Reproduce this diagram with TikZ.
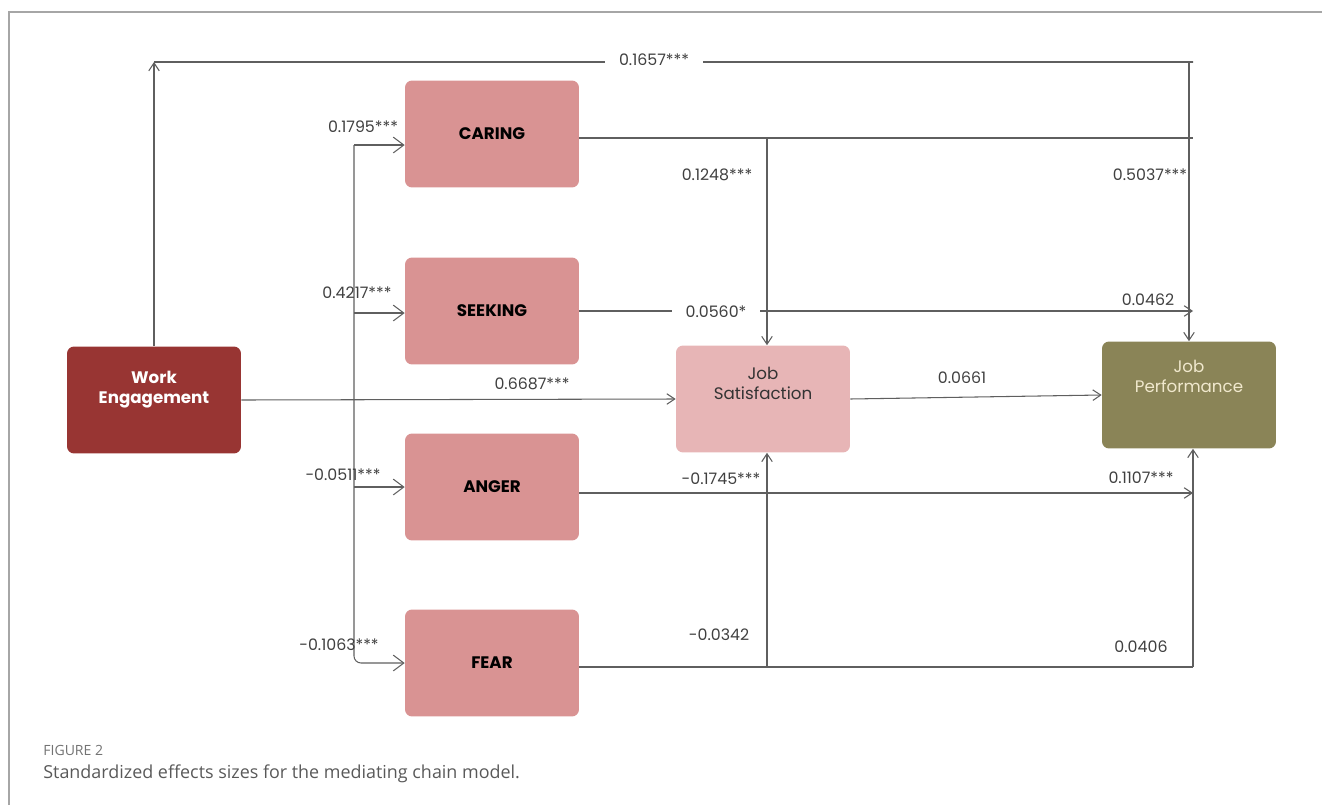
\documentclass[tikz,border=0pt]{standalone}
\usepackage{fontspec}
\setmainfont{Poppins}
\newfontfamily\capfont{Open Sans}
\usetikzlibrary{positioning,arrows.meta}
\definecolor{WorkRed}{RGB}{152,53,51}
\definecolor{EmoPink}{RGB}{217,147,147}
\definecolor{SatPink}{RGB}{231,181,182}
\definecolor{PerfOlive}{RGB}{138,132,87}
\definecolor{PerfText}{RGB}{240,232,205}
\definecolor{LineGray}{RGB}{95,95,95}

\begin{document}
\begin{tikzpicture}[
    x=0.02cm, y=-0.02cm,
    box/.style={rectangle,rounded corners=4pt,minimum width=3.48cm,minimum height=2.14cm,align=center,inner sep=2pt},
    predictor/.style={box,fill=WorkRed,text=white,font=\fontsize{9.5}{11.5}\selectfont\bfseries},
    emotion/.style={box,fill=EmoPink,text=black,font=\fontsize{9.5}{11.5}\selectfont\bfseries},
    mediator/.style={box,fill=SatPink,text=black!80,font=\fontsize{9.5}{11.5}\selectfont},
    outcome/.style={box,fill=PerfOlive,text=PerfText,font=\fontsize{9.5}{11.5}\selectfont},
    effect/.style={->,>={Straight Barb[length=4.5pt,width=6pt]},line width=0.6pt,LineGray},
    feed/.style={->,>={Straight Barb[length=6pt,width=9pt]},line width=0.6pt,LineGray},
    link/.style={line width=0.6pt,LineGray},
    coef/.style={font=\fontsize{9}{10}\selectfont,text=black!75,inner sep=1pt}
]
\useasboundingbox (0,0) rectangle (1322,805);

% Frame
\draw[gray!70,line width=0.6pt] (9,805) -- (9,12) -- (1322,12);

% Nodes
\node[predictor] (we) at (154,400) {Work\\Engagement\\[3pt]};
\node[emotion] (caring) at (492,134) {CARING};
\node[emotion] (seeking) at (492,311) {SEEKING};
\node[emotion] (anger) at (492,487) {ANGER};
\node[emotion] (fear) at (492,663) {FEAR};
\node[mediator] (js) at (763,399) {Job\\Satisfaction\\[6pt]};
\node[outcome] (jp) at (1189,395) {Job\\Performance\\[10pt]};

% Junctions
\coordinate (tl) at (154,62);
\coordinate (tr) at (1193,62);
\coordinate (ct) at (354,145);
\coordinate (cb) at (354,663);
\coordinate (cj) at (767,138);
\coordinate (cr) at (1193,138);
\coordinate (fj) at (767,667);
\coordinate (fr) at (1193,667);

% Direct path to job performance
\draw[effect] (we.north) -- (tl);
\draw[effect] (tl) -- (tr) -- (tr -| jp.north) -- (jp.north);
\node[coef,fill=white,inner xsep=8pt] (c0) at (654,60) {0.1657***};

% Work engagement to emotions
\draw[feed] (ct) -- (ct -| caring.west);
\draw[feed,rounded corners=4pt] (ct) -- (cb) -- (cb -| fear.west);
\draw[feed] (354,313) -- (354,313 -| seeking.west);
\draw[feed] (354,487) -- (anger.west);

% Work engagement to job satisfaction
\draw[effect] (we.east) -- (js.west);

% Emotions onward
\draw[link] (caring.east |- cj) -- (cr);
\draw[effect] (cj) -- (cj |- js.north);
\draw[effect] (seeking.east) -- (seeking.east -| tr);
\node[coef,fill=white,inner xsep=8pt] (c9) at (716,312) {0.0560*};
\draw[effect] (anger.east |- 0,493) -- (1193,493);
\draw[link] (fear.east |- fj) -- (fr);
\draw[effect] (fr) -- (fr |- jp.south);
\draw[effect] (fj) -- (fj |- js.south);

% Job satisfaction to job performance
\draw[effect] (js.east) -- (jp.west);

% Coefficients
\node[coef] (c1) at (363,127) {0.1795***};
\node[coef] (c2) at (357,293) {0.4217***};
\node[coef] (c3) at (343,475) {-0.0511***};
\node[coef] (c4) at (339,645) {-0.1063***};
\node[coef] (c5) at (532,384) {0.6687***};
\node[coef] (c6) at (717,175) {0.1248***};
\node[coef] (c7) at (1150,175) {0.5037***};
\node[coef] (c8) at (1148,300) {0.0462};
\node[coef] (c10) at (962,378) {0.0661};
\node[coef] (c11) at (721,479) {-0.1745***};
\node[coef] (c12) at (1141,478) {0.1107***};
\node[coef] (c13) at (719,635) {-0.0342};
\node[coef] (c14) at (1141,647) {0.0406};

% Caption
\node[anchor=west,font=\capfont\fontsize{8}{9}\selectfont,text=black!55,inner sep=0pt] (fig) at (43,750) {FIGURE 2};
\node[anchor=west,font=\capfont\fontsize{10.2}{12}\selectfont,text=black!65,inner sep=0pt] (cap) at (43,774) {Standardized effects sizes for the mediating chain model.};
\end{tikzpicture}
\end{document}
